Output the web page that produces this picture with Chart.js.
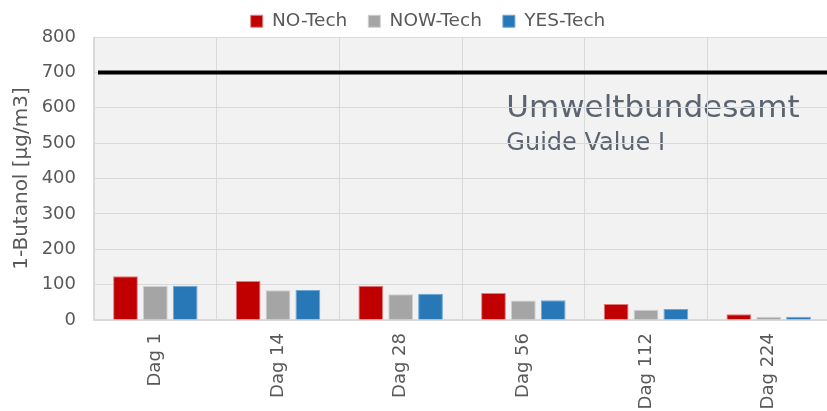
<!DOCTYPE html>
<html lang="en">
<head>
  <meta charset="UTF-8">
  <title>1-Butanol emissions</title>
  <script src="https://cdn.jsdelivr.net/npm/chart.js"></script>
  <style>
    html, body {
      margin: 0;
      padding: 0;
      background: #ffffff;
      overflow: hidden;
    }

    .wrap {
      position: relative;
      width: 831px;
      height: 411px;
    }
  </style>
</head>
<body>
  <div class="wrap">
    <canvas id="chart"></canvas>
  </div>

  <script>
    const categories = ['Dag 1', 'Dag 14', 'Dag 28', 'Dag 56', 'Dag 112', 'Dag 224'];
    const noTech = [124, 110, 97, 76, 45, 16];
    const nowTech = [96, 84, 73, 55, 29, 9];
    const yesTech = [97, 85, 74, 56, 31, 9];
    const guideValue = 700;
    const guideLines = ['Umweltbundesamt', 'Guide Value I'];
    const yMin = 0, yMax = 800, yStep = 100;

    const FONT = "'DejaVu Sans', Verdana, sans-serif";
    const TEXT = '#595959';
    const GRID = '#d9d9d9';

    // plot background + guide text (drawn under the grid, like the original)
    const plotBackground = {
      id: 'plotBackground',
      beforeDraw(chart) {
        const { ctx, chartArea: a, scales } = chart;
        ctx.save();
        ctx.fillStyle = '#f2f2f2';
        ctx.fillRect(a.left, a.top, a.right - a.left, a.bottom - a.top);

        const x = scales.x.getPixelForValue(3) - 17;
        ctx.fillStyle = '#5b6470';
        ctx.textBaseline = 'alphabetic';
        ctx.font = '31px ' + FONT;
        ctx.fillText(guideLines[0], x, scales.y.getPixelForValue(575));
        ctx.font = '24px ' + FONT;
        ctx.fillText(guideLines[1], x, scales.y.getPixelForValue(480));
        ctx.restore();
      }
    };

    // horizontal guide value line
    const guideLine = {
      id: 'guideLine',
      afterDatasetsDraw(chart) {
        const { ctx, chartArea: a, scales } = chart;
        const y = scales.y.getPixelForValue(guideValue);
        ctx.save();
        ctx.strokeStyle = '#000000';
        ctx.lineWidth = 4;
        ctx.beginPath();
        ctx.moveTo(a.left + 4, y);
        ctx.lineTo(a.right, y);
        ctx.stroke();
        ctx.restore();
      }
    };

    // legend: fixed height, wide item gaps, sits a bit right of centre
    const legendTweak = {
      id: 'legendTweak',
      beforeLayout(chart) {
        const lg = chart.legend;
        if (!lg || lg._tweaked) return;
        const fit = lg.fit;
        lg.fit = function () {
          fit.call(this);
          this.height = 37;
        };
        lg._tweaked = true;
      },
      afterLayout(chart) {
        const lg = chart.legend;
        if (!lg) return;
        lg.left += 13;
        lg.right += 13;
        lg.top -= 9;
        lg.bottom -= 9;
      }
    };

    const ctx = document.getElementById('chart').getContext('2d');
    new Chart(ctx, {
      type: 'bar',
      data: {
        labels: categories,
        datasets: [
          { label: 'NO-Tech', data: noTech, backgroundColor: '#c00000', borderColor: '#e27d7d', borderWidth: 1 },
          { label: 'NOW-Tech', data: nowTech, backgroundColor: '#a5a5a5', borderColor: '#cfcfcf', borderWidth: 1 },
          { label: 'YES-Tech', data: yesTech, backgroundColor: '#2878b8', borderColor: '#6ea6d8', borderWidth: 1 }
        ]
      },
      options: {
        responsive: true,
        maintainAspectRatio: false,
        animation: false,
        categoryPercentage: 0.73,
        barPercentage: 0.83,
        layout: { padding: { left: 0, right: 1, top: 0, bottom: 0 } },
        plugins: {
          legend: {
            position: 'top',
            labels: {
              boxWidth: 12,
              boxHeight: 12,
              padding: 21,
              color: TEXT,
              font: { family: FONT, size: 18.5 }
            }
          },
          tooltip: { enabled: false }
        },
        scales: {
          x: {
            grid: { color: GRID, lineWidth: 1, drawTicks: false, offset: true },
            border: { color: GRID, width: 2 },
            ticks: {
              minRotation: 90,
              maxRotation: 90,
              padding: 13,
              color: TEXT,
              font: { family: FONT, size: 18 }
            },
            afterFit(scale) { scale.height = 91; }
          },
          y: {
            min: yMin,
            max: yMax,
            grid: { color: GRID, lineWidth: 1, drawTicks: false },
            border: { color: GRID, width: 1 },
            ticks: {
              stepSize: yStep,
              padding: 18,
              color: TEXT,
              font: { family: FONT, size: 18 }
            },
            title: {
              display: true,
              text: '1-Butanol [µg/m3]',
              color: TEXT,
              padding: { top: 10, bottom: 0 },
              font: { family: FONT, size: 20 }
            },
            afterFit(scale) { scale.width = 94; }
          }
        }
      },
      plugins: [plotBackground, guideLine, legendTweak]
    });
  </script>
</body>
</html>
